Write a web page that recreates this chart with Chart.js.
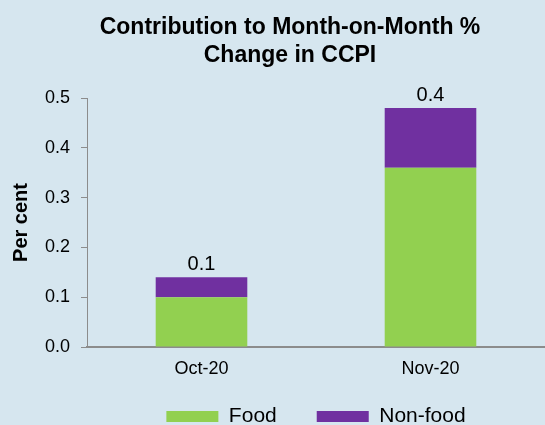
<!DOCTYPE html>
<html>
<head>
<meta charset="utf-8">
<script src="https://cdn.jsdelivr.net/npm/chart.js@4.4.0/dist/chart.umd.min.js"></script>
<style>
  html, body { margin: 0; padding: 0; background: #d6e6ef; }
  #wrap { width: 545px; height: 425px; }
</style>
</head>
<body>
<div id="wrap"><canvas id="ccpiChart" width="545" height="425"></canvas></div>
<script>
'use strict';

// --- data ---
const months = ['Oct-20', 'Nov-20'];
const foodValues = [0.10, 0.36];
const nonFoodValues = [0.04, 0.12];
const totalLabels = ['0.1', '0.4'];
const yTicks = [0.0, 0.1, 0.2, 0.3, 0.4, 0.5];
const titleLines = ['Contribution to Month-on-Month %', 'Change in CCPI'];

const FONT = '"Liberation Sans", Arial, sans-serif';
const AXIS_GREY = '#8c8c8c';

// Title drawn by hand so it can sit left of the plot-area centre like the original
const titlePlugin = {
  id: 'ccpiTitle',
  afterDraw(chart) {
    const ctx = chart.ctx;
    ctx.save();
    ctx.fillStyle = '#000';
    ctx.font = 'bold 23px ' + FONT;
    ctx.textAlign = 'center';
    ctx.textBaseline = 'alphabetic';
    ctx.fillText(titleLines[0], 290, 34);
    ctx.fillText(titleLines[1], 290, 62);
    ctx.restore();
  }
};

// Total labels above each stacked column
const totalsPlugin = {
  id: 'ccpiTotals',
  afterDatasetsDraw(chart) {
    const ctx = chart.ctx;
    const top = chart.getDatasetMeta(chart.data.datasets.length - 1);
    ctx.save();
    ctx.fillStyle = '#000';
    ctx.font = '20px ' + FONT;
    ctx.textAlign = 'center';
    ctx.textBaseline = 'alphabetic';
    top.data.forEach((bar, i) => {
      ctx.fillText(totalLabels[i], bar.x, bar.y - 7);
    });
    ctx.restore();
  }
};

// Legend needs wide item spacing (padding) but should sit low; nudge it after layout.
const legendNudge = {
  id: 'legendNudge',
  afterLayout(chart) {
    const lg = chart.legend;
    if (!lg) return;
    const dy = -21;
    lg.top += dy;
    lg.bottom += dy;
  }
};

const ctx = document.getElementById('ccpiChart').getContext('2d');
new Chart(ctx, {
  type: 'bar',
  data: {
    labels: months,
    datasets: [
      { label: 'Food', data: foodValues, backgroundColor: '#92d050', borderWidth: 0 },
      { label: 'Non-food', data: nonFoodValues, backgroundColor: '#7030a0', borderWidth: 0 }
    ]
  },
  options: {
    responsive: false,
    animation: false,
    layout: { padding: { top: 98, left: 0, right: 0, bottom: -33 } },
    datasets: { bar: { categoryPercentage: 1, barPercentage: 0.4 } },
    plugins: {
      title: { display: false },
      tooltip: { enabled: false },
      legend: {
        position: 'bottom',
        fullSize: false,
        labels: {
          boxWidth: 52, boxHeight: 11, padding: 40,
          color: '#000', font: { family: FONT, size: 21 }
        }
      }
    },
    scales: {
      x: {
        stacked: true,
        grid: { display: false },
        border: { display: true, color: AXIS_GREY, width: 2 },
        ticks: { color: '#000', font: { family: FONT, size: 18 }, padding: 3 },
        afterFit(scale) { scale.height = 40; }
      },
      y: {
        stacked: true,
        min: 0, max: 0.5,
        afterBuildTicks(scale) { scale.ticks = yTicks.map(v => ({ value: v })); },
        grid: { drawOnChartArea: false, drawTicks: true, tickLength: 6, color: AXIS_GREY },
        border: { display: true, color: AXIS_GREY, width: 1 },
        ticks: {
          color: '#000', font: { family: FONT, size: 18 }, padding: 11,
          callback: v => Number(v).toFixed(1)
        },
        title: {
          display: true, text: 'Per cent', color: '#000',
          font: { family: FONT, size: 20, weight: 'bold' }, padding: { top: 9, bottom: 0 }
        },
        afterFit(scale) { scale.width = 87; }
      }
    }
  },
  plugins: [titlePlugin, totalsPlugin, legendNudge]
});
</script>
</body>
</html>
